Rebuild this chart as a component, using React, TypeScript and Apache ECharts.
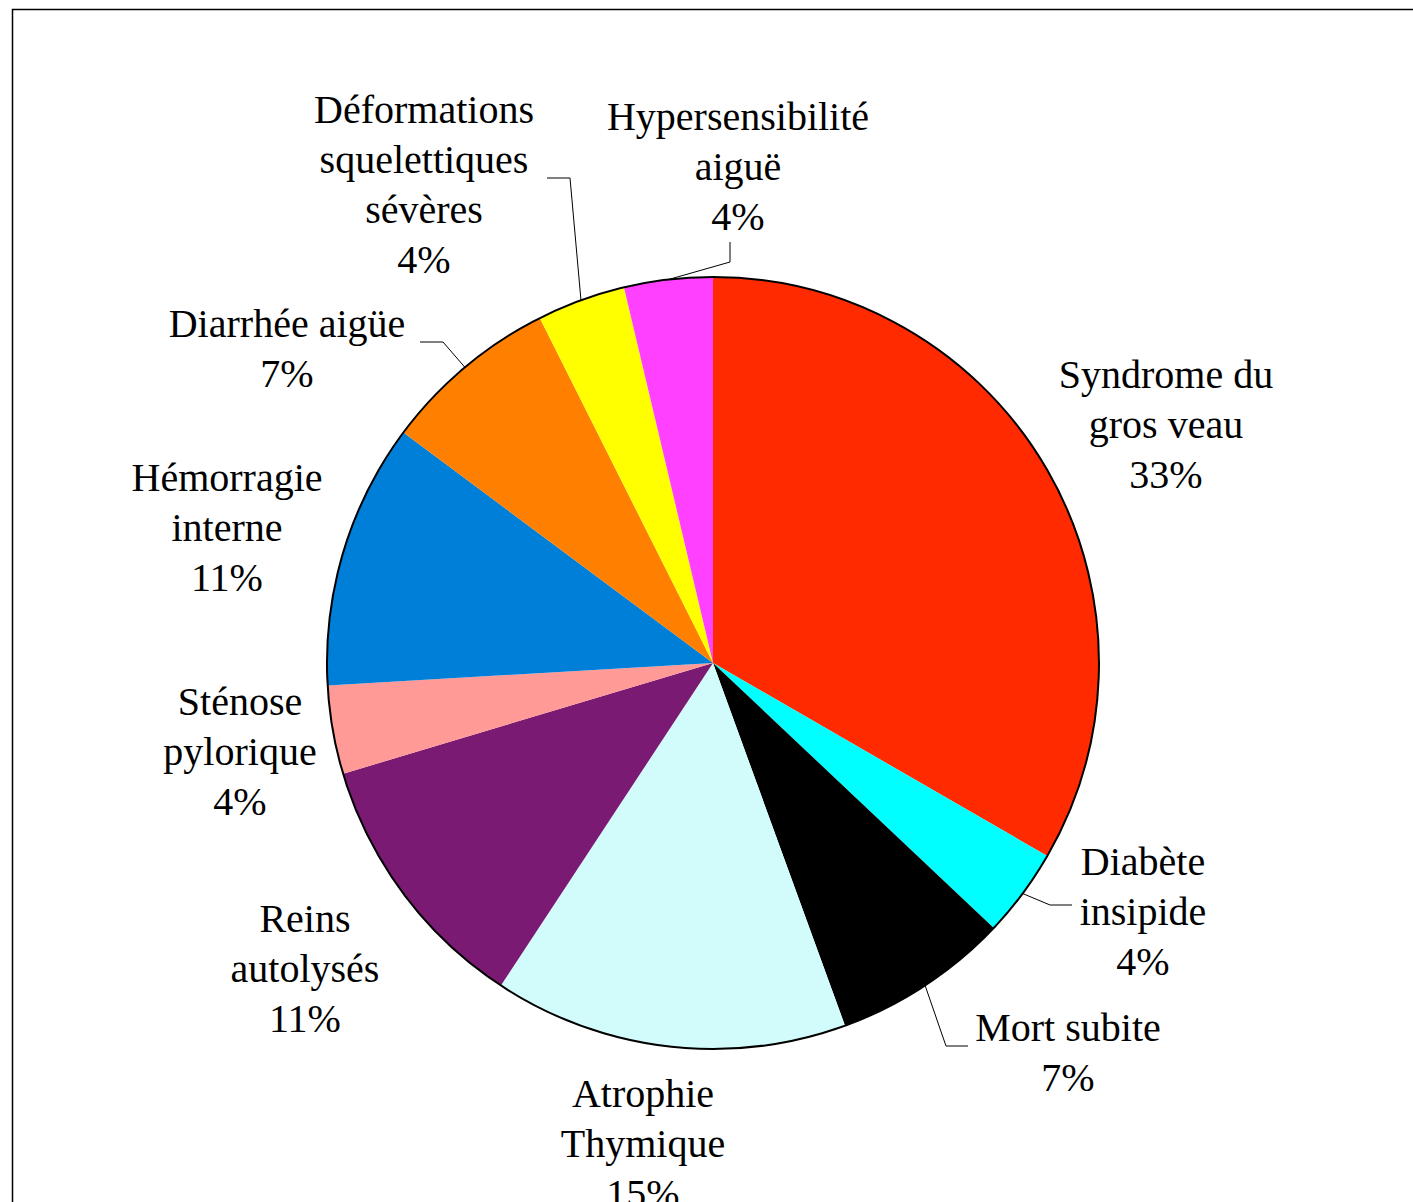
import React, { useEffect, useRef } from "react";
import * as echarts from "echarts";

// ---- data ----
const categories: string[] = [
  "Syndrome du\ngros veau",
  "Diabète\ninsipide",
  "Mort subite",
  "Atrophie\nThymique",
  "Reins\nautolysés",
  "Sténose\npylorique",
  "Hémorragie\ninterne",
  "Diarrhée aigüe",
  "Déformations\nsquelettiques\nsévères",
  "Hypersensibilité\naiguë",
];
const counts: number[] = [9, 1, 2, 4, 3, 1, 3, 2, 1, 1];

// ---- styles / layout (kept apart from data) ----
const colors: string[] = [
  "#FF2A00",
  "#00FFFF",
  "#000000",
  "#D2FCFC",
  "#7A1A73",
  "#FF9A96",
  "#007FD9",
  "#FF7F00",
  "#FFFF00",
  "#FF40FF",
];
// label block centres
const labelPos: number[][] = [
  [1166, 424],
  [1143, 911],
  [1068, 1052],
  [643, 1143],
  [305, 968],
  [240, 751],
  [227, 527],
  [287, 348],
  [424, 184],
  [738, 166],
];
// leader-line elbow and end points (null = no leader line)
const leaderPts: (number[][] | null)[] = [
  null,
  [[1050, 905], [1072, 905]],
  [[946, 1046], [968, 1046]],
  null,
  null,
  null,
  null,
  [[443, 342], [420, 342]],
  [[570, 178], [547, 178]],
  [[730, 262], [730, 242]],
];

const CENTER = [713, 663];
const RADIUS = 386;
const FONT = "'Liberation Serif', 'Times New Roman', serif";

export default function App() {
  const ref = useRef<HTMLDivElement>(null);
  useEffect(() => {
    if (!ref.current) return;
    const chart = echarts.init(ref.current, null, { renderer: "svg" });
    const total = counts.reduce((a, b) => a + b, 0);
    const data = counts.map((v, i) => ({
      value: v,
      name: categories[i],
      itemStyle: { color: colors[i] },
      labelLine: { show: leaderPts[i] !== null },
    }));
    chart.setOption({
      animation: false,
      backgroundColor: "#ffffff",
      graphic: [
        {
          type: "rect",
          left: 10,
          top: 7,
          shape: { width: 1440, height: 1240 },
          style: { fill: "none", stroke: "#000", lineWidth: 1.5 },
          silent: true,
          z: 0,
        },
      ],
      series: [
        {
          type: "pie",
          center: CENTER,
          radius: RADIUS,
          startAngle: 90,
          clockwise: true,
          avoidLabelOverlap: false,
          data,
          itemStyle: { borderWidth: 0 },
          label: {
            show: true,
            position: "outside",
            color: "#000",
            fontFamily: FONT,
            fontSize: 40,
            lineHeight: 50,
            align: "center",
            formatter: (p: any) =>
              `${p.name}\n${Math.round((p.value / total) * 100)}%`,
          },
          labelLine: {
            show: true,
            length: 20,
            length2: 20,
            lineStyle: { color: "#000", width: 1 },
          },
          labelLayout: (params: any) => {
            const i = params.dataIndex;
            const p = labelPos[i];
            const res: any = {
              x: p[0],
              y: p[1],
              align: "center",
              verticalAlign: "middle",
            };
            const lp = leaderPts[i];
            if (lp) {
              let start = params.labelLinePoints && params.labelLinePoints[0];
              if (!start) start = lp[0];
              res.labelLinePoints = [start, lp[0], lp[1]];
            }
            return res;
          },
        },
        {
          type: "pie",
          center: CENTER,
          radius: RADIUS,
          silent: true,
          z: 5,
          label: { show: false },
          labelLine: { show: false },
          data: [{ value: 1, name: "outline" }],
          itemStyle: {
            color: "rgba(0,0,0,0)",
            borderColor: "#000",
            borderWidth: 2,
          },
        },
      ],
    });
    return () => chart.dispose();
  }, []);
  return (
    <div
      ref={ref}
      style={{
        position: "absolute",
        left: 0,
        top: 0,
        width: 1413,
        height: 1202,
      }}
    />
  );
}
